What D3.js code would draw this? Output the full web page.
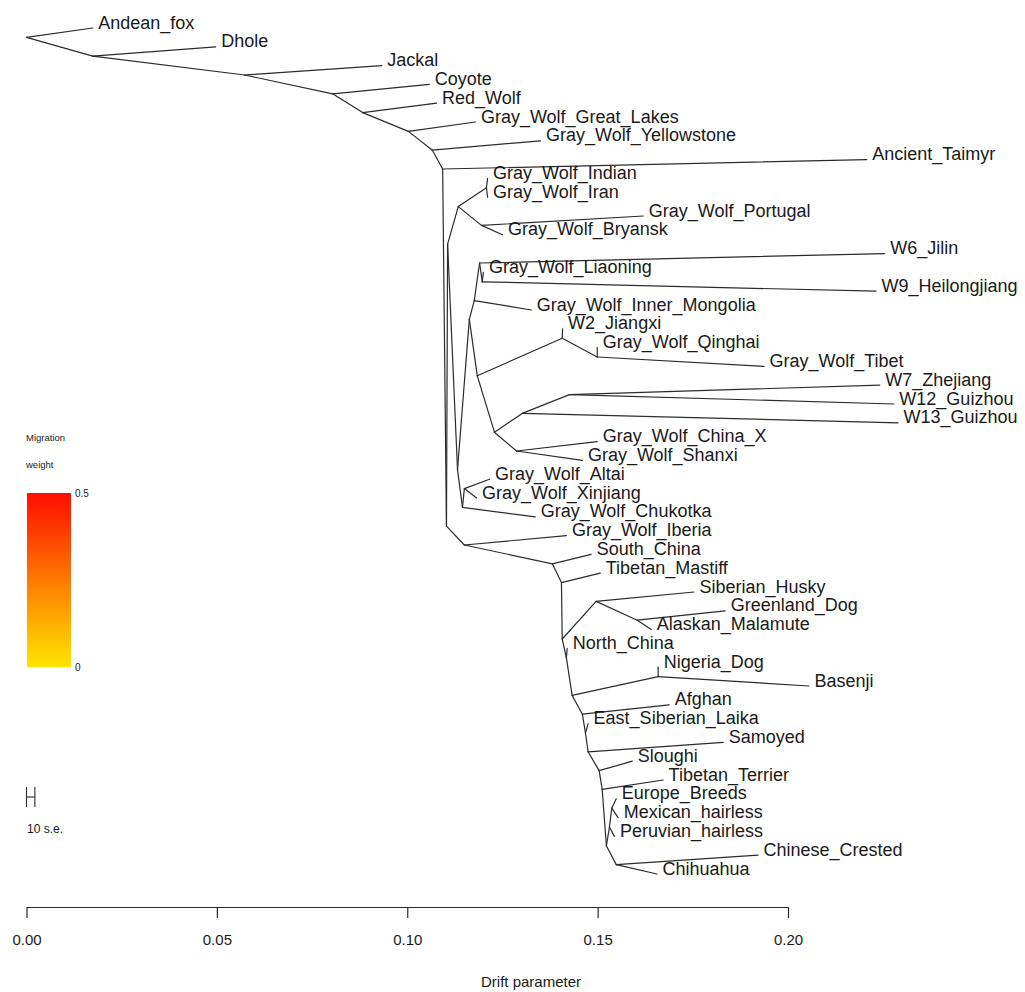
<!DOCTYPE html>
<html>
<head>
<meta charset="utf-8">
<script src="https://cdn.jsdelivr.net/npm/d3@7"></script>
<style>
  html, body { margin: 0; padding: 0; background: #fff; }
  svg { display: block; }
  text { font-family: "Liberation Sans", Arial, sans-serif; fill: #1a1a1a; }
</style>
</head>
<body>
<svg id="chart" width="1025" height="992"></svg>
<script>
// Population tips, listed top to bottom, with their drift (x) positions
const tipNames = [
  "Andean_fox", "Dhole", "Jackal", "Coyote", "Red_Wolf",
  "Gray_Wolf_Great_Lakes", "Gray_Wolf_Yellowstone", "Ancient_Taimyr",
  "Gray_Wolf_Indian", "Gray_Wolf_Iran", "Gray_Wolf_Portugal", "Gray_Wolf_Bryansk",
  "W6_Jilin", "Gray_Wolf_Liaoning", "W9_Heilongjiang", "Gray_Wolf_Inner_Mongolia",
  "W2_Jiangxi", "Gray_Wolf_Qinghai", "Gray_Wolf_Tibet", "W7_Zhejiang",
  "W12_Guizhou", "W13_Guizhou", "Gray_Wolf_China_X", "Gray_Wolf_Shanxi",
  "Gray_Wolf_Altai", "Gray_Wolf_Xinjiang", "Gray_Wolf_Chukotka", "Gray_Wolf_Iberia",
  "South_China", "Tibetan_Mastiff", "Siberian_Husky", "Greenland_Dog",
  "Alaskan_Malamute", "North_China", "Nigeria_Dog", "Basenji", "Afghan",
  "East_Siberian_Laika", "Samoyed", "Sloughi", "Tibetan_Terrier", "Europe_Breeds",
  "Mexican_hairless", "Peruvian_hairless", "Chinese_Crested", "Chihuahua"
];
const tipDrift = [
  0.0174, 0.0497, 0.0933, 0.1058, 0.1077,
  0.1179, 0.1350, 0.2207,
  0.1211, 0.1211, 0.1620, 0.1250,
  0.2254, 0.1200, 0.2231, 0.1326,
  0.1408, 0.1499, 0.1937, 0.2241,
  0.2278, 0.2289, 0.1499, 0.1460,
  0.1216, 0.1182, 0.1336, 0.1418,
  0.1483, 0.1507, 0.1753, 0.1835,
  0.1641, 0.1420, 0.1659, 0.2055, 0.1688,
  0.1475, 0.1830, 0.1591, 0.1672, 0.1549,
  0.1554, 0.1544, 0.1921, 0.1656
];

// Internal nodes: id, drift from the root, and [upper child, lower child]
const nodeIds = [
  "root", "n1", "n2", "n3", "n4", "n5", "n6", "n7", "n8",
  "g1", "a", "i", "pb", "b0", "b1", "q", "l1", "l2", "wr", "w2n", "qt",
  "z", "wg1", "wg2", "cs", "c1", "ax",
  "n9", "d1", "d2", "d3", "h1", "h2", "d4", "d5", "nb", "d6", "d7", "d8",
  "d9", "d10", "d11", "e1", "e2", "cc"
];
const nodeDrift = [
  0.0000, 0.0174, 0.0573, 0.0804, 0.0883, 0.1003, 0.1066, 0.1093, 0.1103,
  0.1106, 0.1134, 0.1208, 0.1195, 0.1132, 0.1163, 0.1176, 0.1190, 0.1197, 0.1184, 0.1407, 0.1499,
  0.1229, 0.1302, 0.1426, 0.1287, 0.1145, 0.1150,
  0.1150, 0.1381, 0.1405, 0.1407, 0.1496, 0.1604, 0.1418, 0.1433, 0.1659, 0.1460, 0.1468, 0.1475,
  0.1504, 0.1512, 0.1523, 0.1531, 0.1537, 0.1549
];
const nodeChildren = [
  ["Andean_fox", "n1"], ["Dhole", "n2"], ["Jackal", "n3"], ["Coyote", "n4"],
  ["Red_Wolf", "n5"], ["Gray_Wolf_Great_Lakes", "n6"], ["Gray_Wolf_Yellowstone", "n7"],
  ["Ancient_Taimyr", "n8"], ["g1", "n9"],
  ["a", "b0"], ["i", "pb"], ["Gray_Wolf_Indian", "Gray_Wolf_Iran"],
  ["Gray_Wolf_Portugal", "Gray_Wolf_Bryansk"], ["b1", "c1"], ["q", "wr"],
  ["l1", "Gray_Wolf_Inner_Mongolia"], ["W6_Jilin", "l2"],
  ["Gray_Wolf_Liaoning", "W9_Heilongjiang"], ["w2n", "z"], ["W2_Jiangxi", "qt"],
  ["Gray_Wolf_Qinghai", "Gray_Wolf_Tibet"],
  ["wg1", "cs"], ["wg2", "W13_Guizhou"], ["W7_Zhejiang", "W12_Guizhou"],
  ["Gray_Wolf_China_X", "Gray_Wolf_Shanxi"], ["ax", "Gray_Wolf_Chukotka"],
  ["Gray_Wolf_Altai", "Gray_Wolf_Xinjiang"],
  ["Gray_Wolf_Iberia", "d1"], ["South_China", "d2"], ["Tibetan_Mastiff", "d3"],
  ["h1", "d4"], ["Siberian_Husky", "h2"], ["Greenland_Dog", "Alaskan_Malamute"],
  ["North_China", "d5"], ["nb", "d6"], ["Nigeria_Dog", "Basenji"],
  ["Afghan", "d7"], ["East_Siberian_Laika", "d8"], ["Samoyed", "d9"],
  ["Sloughi", "d10"], ["Tibetan_Terrier", "d11"], ["e1", "cc"],
  ["e2", "Peruvian_hairless"], ["Europe_Breeds", "Mexican_hairless"],
  ["Chinese_Crested", "Chihuahua"]
];

// Axis and legend values
const axisTicks = [0, 0.05, 0.10, 0.15, 0.20];
const migrationRange = [0, 0.5];
const seBarWidth = 0.0022; // drift spanned by 10 standard errors

// ---- layout helpers ----
const tipIndex = new Map(tipNames.map((n, k) => [n, k]));
const nodeIndex = new Map(nodeIds.map((n, k) => [n, k]));

function driftOf(id) {
  return tipIndex.has(id) ? tipDrift[tipIndex.get(id)] : nodeDrift[nodeIndex.get(id)];
}
function lastTip(id) {
  if (tipIndex.has(id)) return tipIndex.get(id);
  return lastTip(nodeChildren[nodeIndex.get(id)][1]);
}
// a tip sits on its own row; an internal node sits on the boundary between its two subtrees
function rowOf(id) {
  if (tipIndex.has(id)) return tipIndex.get(id);
  return lastTip(nodeChildren[nodeIndex.get(id)][0]) + 0.5;
}

const svg = d3.select("#chart");
const x = d3.scaleLinear().domain([0, 0.2]).range([26.5, 788]);
const y = d3.scaleLinear().domain([0, tipNames.length - 1]).range([28, 874]);

// ---- tree edges ----
const edges = [];
nodeIds.forEach((id, k) => {
  nodeChildren[k].forEach(c => edges.push([id, c]));
});

svg.append("g")
  .selectAll("line")
  .data(edges)
  .join("line")
  .attr("x1", d => x(driftOf(d[0])))
  .attr("y1", d => y(rowOf(d[0])))
  .attr("x2", d => x(driftOf(d[1])))
  .attr("y2", d => y(rowOf(d[1])))
  .attr("stroke", "#2b2b2b")
  .attr("stroke-width", 1.2)
  .attr("stroke-linecap", "round");

// ---- tip labels ----
svg.append("g")
  .selectAll("text")
  .data(tipNames)
  .join("text")
  .attr("x", (d, k) => x(tipDrift[k]) + 5.5)
  .attr("y", (d, k) => y(k) + 0.5)
  .attr("font-size", 18)
  .text(d => d);

// ---- drift axis ----
const axis = svg.append("g")
  .attr("transform", "translate(0,907)")
  .call(d3.axisBottom(x)
    .tickValues(axisTicks)
    .tickFormat(d3.format(".2f"))
    .tickSize(11)
    .tickSizeOuter(0)
    .tickPadding(16));
axis.select(".domain").attr("stroke", "#2b2b2b").attr("stroke-width", 1.2);
axis.selectAll(".tick line").attr("stroke", "#2b2b2b").attr("stroke-width", 1.2);
axis.selectAll(".tick text")
  .attr("font-family", "Liberation Sans, Arial, sans-serif")
  .attr("font-size", 15)
  .attr("fill", "#1a1a1a");

svg.append("text")
  .attr("x", 531)
  .attr("y", 987)
  .attr("text-anchor", "middle")
  .attr("font-size", 15)
  .text("Drift parameter");

// ---- migration weight legend ----
const defs = svg.append("defs");
const grad = defs.append("linearGradient")
  .attr("id", "heat")
  .attr("x1", 0).attr("y1", 1).attr("x2", 0).attr("y2", 0);
const heatStops = [
  [0, "#ffe400"], [0.25, "#ffb000"], [0.5, "#ff7a00"], [0.75, "#ff4200"], [1, "#ff0d00"]
];
grad.selectAll("stop").data(heatStops).join("stop")
  .attr("offset", d => d[0])
  .attr("stop-color", d => d[1]);

const legY = d3.scaleLinear().domain(migrationRange).range([667, 493]);
svg.append("rect")
  .attr("x", 27)
  .attr("y", legY(migrationRange[1]))
  .attr("width", 44)
  .attr("height", legY(migrationRange[0]) - legY(migrationRange[1]))
  .attr("fill", "url(#heat)");

svg.append("text").attr("x", 26).attr("y", 441).attr("font-size", 9.5).text("Migration");
svg.append("text").attr("x", 26).attr("y", 468).attr("font-size", 9.5).text("weight");
svg.selectAll(".legtick")
  .data(migrationRange)
  .join("text")
  .attr("class", "legtick")
  .attr("x", 75)
  .attr("y", d => legY(d) + 4)
  .attr("font-size", 10)
  .text(d => d === 0 ? "0" : String(d));

// ---- standard error scale bar ----
const seY = 797;
const seBar = svg.append("g").attr("stroke", "#2b2b2b").attr("stroke-width", 1.1);
seBar.append("line").attr("x1", x(0)).attr("x2", x(seBarWidth)).attr("y1", seY).attr("y2", seY);
seBar.append("line").attr("x1", x(0)).attr("x2", x(0)).attr("y1", seY - 10).attr("y2", seY + 10);
seBar.append("line").attr("x1", x(seBarWidth)).attr("x2", x(seBarWidth)).attr("y1", seY - 10).attr("y2", seY + 10);
svg.append("text").attr("x", 27).attr("y", 833).attr("font-size", 12).text("10 s.e.");
</script>
</body>
</html>
